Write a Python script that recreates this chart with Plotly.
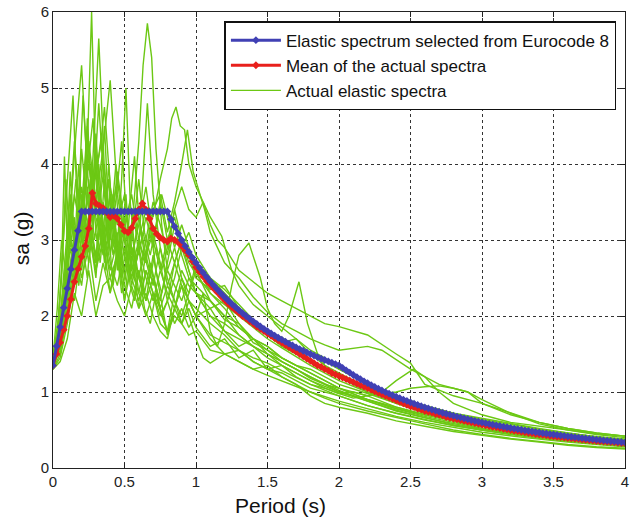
import plotly.graph_objects as go

# ---------------- data ----------------
# Eurocode 8 elastic spectrum (read at 0.025 s steps)
period_grid = [round(i * 0.025, 3) for i in range(161)]

ec8_sa = [
    1.35, 1.603, 1.856, 2.109, 2.363, 2.616, 2.869, 3.122, 3.375,
    3.375, 3.375, 3.375, 3.375, 3.375, 3.375, 3.375, 3.375, 3.375, 3.375, 3.375, 3.375,
    3.375, 3.375, 3.375, 3.375, 3.375, 3.375, 3.375, 3.375, 3.375, 3.375, 3.375, 3.375,
    3.273, 3.176, 3.086, 3.000, 2.919, 2.842, 2.769, 2.700, 2.634, 2.571, 2.512, 2.455,
    2.400, 2.348, 2.298, 2.250, 2.204, 2.160, 2.118, 2.077, 2.038, 2.000, 1.964, 1.929,
    1.895, 1.862, 1.831, 1.800, 1.770, 1.742, 1.714, 1.688, 1.662, 1.636, 1.612, 1.588,
    1.565, 1.543, 1.521, 1.500, 1.479, 1.459, 1.440, 1.421, 1.403, 1.385, 1.367, 1.350,
    1.317, 1.285, 1.254, 1.224, 1.196, 1.168, 1.141, 1.116, 1.091, 1.067, 1.043, 1.021,
    0.999, 0.978, 0.957, 0.938, 0.918, 0.900, 0.882, 0.864, 0.847, 0.830, 0.814, 0.799,
    0.784, 0.769, 0.755, 0.741, 0.727, 0.714, 0.701, 0.689, 0.677, 0.665, 0.653, 0.642,
    0.631, 0.621, 0.610, 0.600, 0.590, 0.580, 0.571, 0.562, 0.553, 0.544, 0.536, 0.527,
    0.519, 0.511, 0.503, 0.496, 0.488, 0.481, 0.474, 0.467, 0.460, 0.454, 0.447, 0.441,
    0.435, 0.428, 0.423, 0.417, 0.411, 0.405, 0.400, 0.394, 0.389, 0.384, 0.379, 0.374,
    0.369, 0.364, 0.360, 0.355, 0.351, 0.346, 0.342, 0.338,
]

mean_sa = [
    1.35, 1.5, 1.65, 1.82, 2.0, 2.22, 2.45, 2.62, 2.78, 2.92, 3.15, 3.62, 3.48, 3.45,
    3.42, 3.36, 3.3, 3.32, 3.28, 3.2, 3.12, 3.1, 3.16, 3.28, 3.4, 3.48, 3.4, 3.28, 3.15,
    3.08, 3.03, 3.0, 2.98, 3.02, 3.0, 2.97, 2.92, 2.86, 2.8, 2.72, 2.64, 2.58, 2.52,
    2.46, 2.41, 2.36, 2.31, 2.26, 2.21, 2.16, 2.12, 2.08, 2.04, 2.0, 1.97, 1.93, 1.9,
    1.86, 1.83, 1.8, 1.77, 1.74, 1.71, 1.68, 1.65, 1.62, 1.59, 1.56, 1.53, 1.5, 1.47,
    1.44, 1.41, 1.38, 1.35, 1.33, 1.3, 1.28, 1.25, 1.23, 1.21, 1.19, 1.17, 1.15, 1.13,
    1.11, 1.09, 1.07, 1.05, 1.03, 1.01, 0.99, 0.97, 0.95, 0.93, 0.91, 0.89, 0.87, 0.85,
    0.83, 0.81, 0.8, 0.78, 0.77, 0.75, 0.74, 0.73, 0.71, 0.7, 0.69, 0.67, 0.66, 0.65,
    0.64, 0.63, 0.62, 0.61, 0.6, 0.59, 0.58, 0.57, 0.56, 0.55, 0.54, 0.535, 0.525, 0.515,
    0.51, 0.5, 0.49, 0.485, 0.475, 0.47, 0.46, 0.455, 0.445, 0.44, 0.435, 0.43, 0.42,
    0.415, 0.41, 0.405, 0.4, 0.395, 0.39, 0.385, 0.38, 0.375, 0.37, 0.365, 0.36, 0.355,
    0.35, 0.348, 0.344, 0.34, 0.336, 0.332, 0.328, 0.325,
]

# Actual elastic spectra (breakpoints)
g1_t = [0, 0.05, 0.1, 0.13, 0.17, 0.2, 0.23, 0.27, 0.3, 0.34, 0.38, 0.42, 0.46, 0.5, 0.55, 0.6, 0.65, 0.7, 0.75, 0.8, 0.85, 0.9, 0.95, 1.0, 1.1, 1.2, 1.3, 1.4, 1.5, 1.6, 1.7, 1.8, 1.9, 2.0, 2.2, 2.4, 2.6, 2.8, 3.0, 3.2, 3.4, 3.6, 3.8, 4.0]
g1_sa = [1.4, 1.9, 2.6, 3.4, 2.9, 4.2, 3.6, 6.0, 3.8, 4.4, 3.0, 3.6, 2.6, 3.1, 2.4, 2.9, 2.5, 2.2, 2.6, 2.3, 2.1, 2.4, 2.2, 2.0, 2.1, 1.8, 1.6, 1.7, 1.5, 1.4, 1.3, 1.2, 1.1, 1.05, 0.9, 0.78, 0.68, 0.6, 0.52, 0.47, 0.42, 0.38, 0.34, 0.31]

g2_t = [0, 0.05, 0.1, 0.15, 0.2, 0.25, 0.3, 0.35, 0.4, 0.45, 0.5, 0.55, 0.6, 0.63, 0.66, 0.69, 0.72, 0.76, 0.8, 0.85, 0.9, 0.95, 1.0, 1.05, 1.1, 1.2, 1.3, 1.4, 1.5, 1.6, 1.7, 1.8, 1.9, 2.0, 2.2, 2.4, 2.6, 2.8, 3.0, 3.2, 3.4, 3.6, 3.8, 4.0]
g2_sa = [1.35, 1.6, 2.2, 2.8, 2.4, 3.2, 2.6, 3.0, 2.3, 2.8, 2.2, 3.1, 4.3, 5.3, 5.85, 5.4, 4.2, 3.2, 2.6, 2.9, 2.5, 2.3, 2.6, 2.4, 2.2, 2.0, 1.9, 1.7, 1.6, 1.45, 1.35, 1.25, 1.15, 1.05, 0.95, 0.8, 0.7, 0.62, 0.55, 0.5, 0.45, 0.4, 0.36, 0.33]

g3_t = [0, 0.04, 0.08, 0.12, 0.16, 0.2, 0.24, 0.28, 0.32, 0.36, 0.4, 0.44, 0.48, 0.52, 0.56, 0.6, 0.65, 0.7, 0.75, 0.8, 0.85, 0.9, 0.95, 1.0, 1.1, 1.2, 1.3, 1.4, 1.5, 1.6, 1.7, 1.8, 2.0, 2.2, 2.4, 2.6, 2.8, 3.0, 3.2, 3.4, 3.6, 3.8, 4.0]
g3_sa = [1.3, 1.55, 2.1, 2.9, 2.5, 3.6, 3.1, 4.1, 5.65, 3.9, 3.2, 3.7, 2.7, 2.4, 2.9, 2.3, 2.0, 2.3, 2.1, 1.8, 2.0, 1.9, 2.2, 2.0, 1.7, 1.5, 1.55, 1.4, 1.3, 1.25, 1.15, 1.05, 0.95, 0.82, 0.72, 0.63, 0.56, 0.5, 0.45, 0.4, 0.36, 0.33, 0.3]

g4_t = [0, 0.04, 0.08, 0.12, 0.16, 0.2, 0.24, 0.28, 0.32, 0.36, 0.4, 0.45, 0.5, 0.55, 0.6, 0.65, 0.7, 0.75, 0.8, 0.85, 0.9, 0.95, 1.0, 1.1, 1.2, 1.3, 1.4, 1.5, 1.6, 1.7, 1.8, 1.9, 2.0, 2.2, 2.4, 2.6, 2.8, 3.0, 3.2, 3.4, 3.6, 3.8, 4.0]
g4_sa = [1.4, 1.8, 2.5, 3.3, 4.4, 5.3, 3.9, 4.6, 3.4, 4.0, 2.8, 3.4, 2.5, 2.9, 2.1, 2.6, 2.3, 1.9, 1.8, 2.3, 2.6, 2.4, 2.3, 2.2, 1.95, 1.85, 1.7, 1.55, 1.45, 1.35, 1.3, 1.2, 1.1, 0.98, 0.85, 0.74, 0.65, 0.58, 0.52, 0.46, 0.42, 0.38, 0.35]

g5_t = [0, 0.05, 0.1, 0.15, 0.2, 0.25, 0.3, 0.35, 0.4, 0.45, 0.5, 0.55, 0.6, 0.65, 0.7, 0.75, 0.8, 0.83, 0.86, 0.89, 0.92, 0.95, 1.0, 1.05, 1.1, 1.15, 1.2, 1.3, 1.4, 1.5, 1.6, 1.7, 1.8, 1.9, 2.0, 2.2, 2.4, 2.5, 2.6, 2.8, 3.0, 3.2, 3.4, 3.6, 3.8, 4.0]
g5_sa = [1.35, 1.7, 2.3, 3.0, 2.6, 3.3, 2.8, 3.5, 3.0, 3.9, 3.2, 3.6, 3.0, 3.4, 3.3, 3.8, 4.2, 4.6, 4.75, 4.5, 4.45, 4.0, 3.7, 3.5, 3.2, 3.0, 2.9, 2.6, 2.45, 2.3, 2.2, 2.1, 2.0, 1.9, 1.86, 1.75, 1.5, 1.38, 1.1, 0.95, 0.85, 0.72, 0.6, 0.52, 0.46, 0.42]

g6_t = [0, 0.05, 0.1, 0.15, 0.2, 0.25, 0.3, 0.35, 0.4, 0.45, 0.5, 0.55, 0.6, 0.66, 0.7, 0.75, 0.8, 0.85, 0.9, 0.95, 1.0, 1.1, 1.2, 1.3, 1.4, 1.5, 1.6, 1.7, 1.8, 1.9, 2.0, 2.2, 2.4, 2.6, 2.8, 3.0, 3.2, 3.4, 3.6, 3.8, 4.0]
g6_sa = [1.3, 1.5, 2.0, 2.6, 3.3, 2.7, 3.5, 4.2, 5.1, 3.6, 3.0, 2.5, 2.9, 4.8, 3.6, 2.9, 2.4, 2.7, 3.0, 2.6, 2.3, 2.1, 2.2, 1.9, 1.65, 1.55, 1.4, 1.3, 1.18, 1.1, 1.0, 0.88, 0.75, 0.66, 0.58, 0.51, 0.46, 0.41, 0.37, 0.34, 0.3]

g7_t = [0, 0.04, 0.08, 0.11, 0.14, 0.17, 0.21, 0.25, 0.29, 0.33, 0.37, 0.41, 0.45, 0.48, 0.51, 0.54, 0.58, 0.63, 0.7, 0.75, 0.8, 0.85, 0.9, 0.95, 1.0, 1.1, 1.2, 1.3, 1.4, 1.5, 1.6, 1.7, 1.8, 2.0, 2.2, 2.4, 2.6, 2.8, 3.0, 3.2, 3.4, 3.6, 3.8, 4.0]
g7_sa = [1.45, 2.0, 3.2, 4.1, 4.9, 3.4, 2.9, 3.8, 3.0, 3.5, 2.6, 3.3, 2.9, 3.8, 5.0, 3.5, 2.7, 3.1, 2.5, 2.2, 2.7, 3.2, 2.8, 2.5, 2.4, 2.2, 2.0, 1.75, 1.6, 1.5, 1.4, 1.3, 1.2, 1.02, 0.88, 0.76, 0.66, 0.57, 0.5, 0.44, 0.39, 0.35, 0.32, 0.29]

g8_t = [0, 0.03, 0.06, 0.08, 0.1, 0.13, 0.16, 0.2, 0.24, 0.28, 0.32, 0.36, 0.4, 0.45, 0.5, 0.55, 0.6, 0.65, 0.7, 0.75, 0.8, 0.85, 0.9, 0.94, 0.98, 1.02, 1.06, 1.1, 1.2, 1.3, 1.4, 1.5, 1.6, 1.7, 1.8, 1.9, 2.0, 2.2, 2.3, 2.5, 2.7, 2.9, 3.0, 3.2, 3.4, 3.6, 3.8, 4.0]
g8_sa = [1.35, 1.7, 2.6, 4.1, 2.9, 3.5, 2.7, 3.4, 4.5, 3.2, 4.0, 2.9, 3.6, 2.8, 3.3, 2.6, 3.0, 2.7, 3.4, 3.6, 3.1, 3.5, 4.0, 4.45, 3.9, 3.65, 3.4, 3.1, 2.7, 2.5, 2.25, 2.05, 1.9, 1.8, 1.7, 1.62, 1.55, 1.6, 1.55, 1.3, 1.1, 1.0, 0.85, 0.7, 0.6, 0.52, 0.46, 0.42]

g9_t = [0, 0.05, 0.1, 0.15, 0.2, 0.25, 0.3, 0.35, 0.4, 0.45, 0.5, 0.55, 0.6, 0.65, 0.7, 0.75, 0.8, 0.85, 0.9, 0.95, 1.0, 1.05, 1.1, 1.15, 1.2, 1.25, 1.3, 1.37, 1.45, 1.5, 1.55, 1.6, 1.65, 1.72, 1.78, 1.85, 1.9, 2.0, 2.2, 2.4, 2.6, 2.8, 3.0, 3.2, 3.4, 3.6, 3.8, 4.0]
g9_sa = [1.4, 1.8, 2.4, 3.1, 2.5, 2.9, 2.2, 2.7, 2.3, 2.9, 2.4, 2.1, 2.6, 2.2, 2.8, 2.3, 1.75, 2.1, 2.5, 2.2, 2.0, 2.3, 1.8, 1.6, 1.9, 2.4, 2.8, 2.96, 2.5, 2.1, 1.9, 1.8, 2.0, 2.45, 1.9, 1.5, 1.35, 1.2, 1.0, 0.85, 0.72, 0.62, 0.52, 0.46, 0.41, 0.36, 0.33, 0.3]

g10_t = [0, 0.05, 0.1, 0.15, 0.2, 0.25, 0.3, 0.35, 0.4, 0.45, 0.5, 0.55, 0.6, 0.65, 0.7, 0.75, 0.8, 0.85, 0.9, 0.95, 1.0, 1.05, 1.1, 1.2, 1.3, 1.4, 1.5, 1.6, 1.7, 1.8, 1.9, 2.0, 2.2, 2.4, 2.6, 2.8, 3.0, 3.2, 3.4, 3.6, 3.8, 4.0]
g10_sa = [1.3, 1.4, 1.7, 2.3, 2.0, 2.6, 2.0, 2.4, 2.5, 2.2, 2.0, 2.4, 2.1, 2.3, 2.0, 1.8, 1.7, 2.1, 2.4, 2.0, 1.7, 1.45, 1.38, 1.5, 1.4, 1.3, 1.35, 1.2, 1.1, 0.95, 0.85, 0.8, 0.72, 0.62, 0.55, 0.48, 0.43, 0.38, 0.34, 0.3, 0.27, 0.25]

g11_t = [0, 0.05, 0.1, 0.15, 0.2, 0.25, 0.3, 0.35, 0.4, 0.45, 0.5, 0.55, 0.6, 0.65, 0.7, 0.75, 0.8, 0.85, 0.9, 0.95, 1.0, 1.1, 1.2, 1.3, 1.4, 1.5, 1.6, 1.7, 1.8, 1.9, 2.0, 2.2, 2.4, 2.6, 2.8, 3.0, 3.2, 3.4, 3.6, 3.8, 4.0]
g11_sa = [1.35, 1.6, 2.1, 2.7, 3.5, 2.9, 3.9, 3.1, 2.6, 3.0, 2.2, 2.7, 3.3, 2.8, 2.4, 2.9, 2.5, 2.2, 2.0, 2.3, 2.7, 2.3, 2.1, 1.85, 1.7, 1.6, 1.45, 1.35, 1.25, 1.15, 1.05, 0.9, 0.78, 0.7, 0.64, 0.58, 0.52, 0.47, 0.42, 0.38, 0.35]

g12_t = [0, 0.05, 0.1, 0.15, 0.2, 0.25, 0.3, 0.35, 0.4, 0.45, 0.5, 0.55, 0.6, 0.65, 0.7, 0.75, 0.8, 0.85, 0.9, 0.95, 1.0, 1.1, 1.2, 1.3, 1.4, 1.5, 1.6, 1.7, 1.8, 1.9, 2.0, 2.1, 2.2, 2.3, 2.4, 2.5, 2.6, 2.7, 2.8, 2.9, 3.0, 3.2, 3.4, 3.6, 3.8, 4.0]
g12_sa = [1.4, 1.9, 2.7, 3.6, 3.0, 4.3, 3.5, 2.8, 3.4, 2.7, 3.2, 2.6, 2.3, 2.8, 3.1, 2.7, 2.2, 2.5, 2.9, 2.6, 2.3, 2.0, 1.9, 1.75, 1.6, 1.5, 1.35, 1.25, 1.15, 1.05, 0.98, 1.0, 0.95, 0.98, 1.0, 1.05, 1.07, 1.08, 1.05, 1.0, 0.9, 0.72, 0.58, 0.5, 0.44, 0.4]

g13_t = [0, 0.05, 0.1, 0.15, 0.2, 0.25, 0.3, 0.35, 0.4, 0.45, 0.5, 0.55, 0.6, 0.65, 0.7, 0.75, 0.8, 0.85, 0.9, 0.95, 1.0, 1.1, 1.2, 1.3, 1.4, 1.5, 1.6, 1.7, 1.8, 1.9, 2.0, 2.1, 2.2, 2.3, 2.4, 2.52, 2.6, 2.7, 2.8, 3.0, 3.2, 3.4, 3.6, 3.8, 4.0]
g13_sa = [1.35, 1.7, 2.2, 2.9, 3.7, 3.1, 2.6, 3.2, 2.7, 2.4, 2.9, 2.5, 2.2, 2.6, 2.3, 2.0, 2.2, 2.7, 2.4, 2.2, 2.1, 1.9, 1.75, 1.55, 1.4, 1.3, 1.35, 1.2, 1.1, 1.05, 0.98, 0.92, 0.95, 1.0, 1.15, 1.3, 1.2, 1.0, 0.85, 0.7, 0.6, 0.55, 0.5, 0.45, 0.42]

g14_t = [0, 0.05, 0.1, 0.15, 0.2, 0.25, 0.3, 0.35, 0.4, 0.45, 0.5, 0.55, 0.6, 0.65, 0.7, 0.75, 0.8, 0.85, 0.9, 0.95, 1.0, 1.1, 1.2, 1.3, 1.4, 1.5, 1.6, 1.7, 1.8, 1.9, 2.0, 2.2, 2.4, 2.6, 2.8, 3.0, 3.2, 3.4, 3.6, 3.8, 4.0]
g14_sa = [1.3, 1.45, 1.9, 2.5, 3.2, 4.0, 3.3, 2.9, 3.6, 3.0, 2.6, 3.1, 2.5, 2.2, 2.5, 2.1, 2.4, 2.2, 1.9, 2.1, 1.85, 1.6, 1.7, 1.45, 1.55, 1.3, 1.2, 1.1, 1.0, 0.92, 0.85, 0.75, 0.66, 0.58, 0.5, 0.44, 0.39, 0.35, 0.31, 0.28, 0.26]

g15_t = [0, 0.04, 0.08, 0.12, 0.16, 0.2, 0.24, 0.28, 0.32, 0.36, 0.4, 0.44, 0.48, 0.52, 0.56, 0.6, 0.65, 0.7, 0.75, 0.8, 0.85, 0.9, 0.95, 1.0, 1.1, 1.2, 1.3, 1.4, 1.5, 1.6, 1.7, 1.8, 1.9, 2.0, 2.2, 2.4, 2.6, 2.8, 3.0, 3.2, 3.4, 3.6, 3.8, 4.0]
g15_sa = [1.4, 1.7, 2.4, 3.0, 3.8, 3.2, 4.4, 3.5, 4.8, 3.6, 3.1, 4.0, 3.3, 2.7, 3.4, 2.8, 3.3, 2.9, 3.5, 3.0, 2.7, 3.0, 2.8, 2.5, 2.35, 2.4, 2.1, 1.95, 1.8, 1.65, 1.7, 1.5, 1.35, 1.25, 1.05, 0.88, 0.75, 0.7, 0.62, 0.55, 0.48, 0.43, 0.39, 0.36]

g16_t = [0, 0.05, 0.1, 0.15, 0.2, 0.25, 0.3, 0.33, 0.36, 0.4, 0.45, 0.5, 0.55, 0.6, 0.65, 0.7, 0.75, 0.8, 0.85, 0.9, 0.95, 1.0, 1.1, 1.2, 1.3, 1.4, 1.5, 1.6, 1.7, 1.8, 1.9, 2.0, 2.2, 2.4, 2.6, 2.8, 3.0, 3.2, 3.4, 3.6, 3.8, 4.0]
g16_sa = [1.35, 1.55, 2.0, 2.6, 3.0, 3.6, 3.9, 4.2, 4.75, 3.7, 3.2, 3.6, 2.8, 3.2, 3.7, 3.0, 2.6, 3.0, 3.3, 2.9, 3.1, 2.8, 2.5, 2.35, 2.15, 1.95, 1.8, 1.72, 1.6, 1.5, 1.4, 1.3, 1.1, 0.95, 0.82, 0.72, 0.65, 0.58, 0.52, 0.46, 0.41, 0.37]

g17_t = [0, 0.05, 0.1, 0.15, 0.2, 0.25, 0.3, 0.35, 0.4, 0.45, 0.5, 0.55, 0.6, 0.65, 0.7, 0.75, 0.8, 0.85, 0.9, 0.95, 1.0, 1.05, 1.1, 1.18, 1.25, 1.3, 1.4, 1.5, 1.6, 1.7, 1.8, 1.9, 2.0, 2.2, 2.4, 2.6, 2.8, 3.0, 3.2, 3.4, 3.6, 3.8, 4.0]
g17_sa = [1.4, 1.8, 2.5, 2.2, 2.9, 3.3, 2.7, 3.1, 2.5, 2.8, 3.4, 2.9, 2.5, 3.0, 3.5, 3.2, 2.8, 3.4, 3.7, 3.4, 3.3, 3.5, 3.3, 3.05, 2.6, 2.4, 2.15, 2.0, 1.85, 1.7, 1.55, 1.45, 1.3, 1.12, 0.95, 0.82, 0.72, 0.64, 0.57, 0.51, 0.46, 0.41, 0.38]

# finer period sampling shared by the last five records
gd_t = [0, 0.03, 0.06, 0.09, 0.12, 0.15, 0.18, 0.21, 0.24, 0.27, 0.3, 0.33, 0.36, 0.39, 0.42, 0.45, 0.48, 0.51, 0.54, 0.57, 0.6, 0.64, 0.68, 0.72, 0.76, 0.8, 0.85, 0.9, 0.95, 1.0, 1.1, 1.2, 1.3, 1.4, 1.5, 1.6, 1.8, 2.0, 2.2, 2.4, 2.6, 2.8, 3.0, 3.3, 3.6, 4.0]
g18_sa = [1.35, 1.6, 2.2, 2.9, 3.6, 2.8, 4.0, 3.2, 4.6, 3.6, 4.2, 3.0, 3.8, 2.9, 3.4, 2.6, 3.1, 3.6, 2.8, 2.5, 3.0, 2.7, 3.2, 2.6, 2.3, 2.6, 2.4, 2.2, 2.5, 2.3, 2.0, 1.8, 1.7, 1.6, 1.45, 1.35, 1.15, 1.0, 0.9, 0.8, 0.7, 0.62, 0.55, 0.47, 0.4, 0.33]
g19_sa = [1.4, 1.8, 2.5, 3.8, 2.9, 3.3, 2.4, 2.9, 3.7, 2.9, 2.5, 3.3, 2.7, 3.1, 2.4, 2.8, 2.3, 2.6, 3.0, 2.6, 2.9, 2.3, 2.7, 2.4, 2.0, 2.2, 1.9, 2.1, 1.85, 2.0, 1.75, 1.65, 1.55, 1.45, 1.38, 1.28, 1.1, 0.95, 0.82, 0.72, 0.64, 0.56, 0.5, 0.43, 0.37, 0.31]
g20_sa = [1.3, 1.5, 2.0, 2.7, 3.4, 4.3, 3.5, 4.9, 3.9, 3.4, 4.4, 3.5, 3.1, 4.0, 3.2, 3.7, 4.3, 3.4, 2.9, 3.3, 3.8, 3.1, 2.8, 3.2, 3.6, 3.3, 2.9, 3.2, 2.9, 2.7, 2.5, 2.3, 2.1, 1.9, 1.75, 1.6, 1.4, 1.2, 1.05, 0.9, 0.78, 0.68, 0.6, 0.5, 0.42, 0.35]
g21_sa = [1.35, 1.55, 1.9, 2.4, 3.1, 2.6, 3.5, 2.9, 2.5, 3.2, 2.7, 3.6, 4.5, 3.3, 2.8, 3.1, 2.5, 2.9, 2.4, 2.2, 2.6, 2.1, 1.9, 2.3, 2.0, 1.8, 2.1, 1.9, 1.75, 1.8, 1.55, 1.5, 1.4, 1.3, 1.22, 1.15, 1.0, 0.88, 0.78, 0.68, 0.6, 0.53, 0.47, 0.4, 0.34, 0.28]
g22_sa = [1.45, 2.1, 3.0, 2.5, 3.9, 3.0, 2.6, 3.4, 2.8, 4.0, 3.1, 2.7, 3.3, 3.8, 2.9, 3.4, 3.0, 2.7, 3.5, 4.1, 3.3, 2.8, 2.5, 2.9, 2.6, 2.9, 3.4, 3.0, 2.7, 2.55, 2.3, 2.15, 2.0, 1.85, 1.7, 1.58, 1.35, 1.15, 1.0, 0.88, 0.8, 0.7, 0.62, 0.52, 0.45, 0.38]

green_periods = [g1_t, g2_t, g3_t, g4_t, g5_t, g6_t, g7_t, g8_t, g9_t, g10_t,
                 g11_t, g12_t, g13_t, g14_t, g15_t, g16_t, g17_t,
                 gd_t, gd_t, gd_t, gd_t, gd_t]
green_values = [g1_sa, g2_sa, g3_sa, g4_sa, g5_sa, g6_sa, g7_sa, g8_sa, g9_sa, g10_sa,
                g11_sa, g12_sa, g13_sa, g14_sa, g15_sa, g16_sa, g17_sa,
                g18_sa, g19_sa, g20_sa, g21_sa, g22_sa]

legend_labels = ["Elastic spectrum selected from Eurocode 8",
                 "Mean of the actual spectra",
                 "Actual elastic spectra"]
x_ticks = [0, 0.5, 1, 1.5, 2, 2.5, 3, 3.5, 4]
y_ticks = [0, 1, 2, 3, 4, 5, 6]

# ---------------- figure ----------------
for i, (t, s) in enumerate(zip(green_periods, green_values)):
    if len(t) != len(s):
        raise ValueError(f"green curve {i+1}: {len(t)} periods vs {len(s)} values")
assert len(ec8_sa) == len(period_grid), len(ec8_sa)
assert len(mean_sa) == len(period_grid), len(mean_sa)

GREEN = "#6cc814"
RED = "#e8201c"
BLUE = "#4040b4"
FONT = "Arial, Liberation Sans, sans-serif"

fig = go.Figure()
for i, (t, s) in enumerate(zip(green_periods, green_values)):
    fig.add_trace(go.Scatter(
        x=t, y=s, mode="lines", line=dict(color=GREEN, width=1.4),
        name=legend_labels[2], showlegend=(i == 0), legendrank=3,
        legendgroup="g"))

fig.add_trace(go.Scatter(
    x=period_grid, y=mean_sa, mode="lines+markers",
    line=dict(color=RED, width=3),
    marker=dict(symbol="diamond", size=6, color=RED),
    name=legend_labels[1], legendrank=2))

fig.add_trace(go.Scatter(
    x=period_grid, y=ec8_sa, mode="lines+markers",
    line=dict(color=BLUE, width=3),
    marker=dict(symbol="diamond", size=6, color=BLUE),
    name=legend_labels[0], legendrank=1))

axis_common = dict(
    showline=True, linecolor="#222", linewidth=1, mirror="ticks",
    ticks="inside", ticklen=5, tickcolor="#222",
    showgrid=True, gridcolor="#333", griddash="dot", gridwidth=1,
    zeroline=False, tickfont=dict(family=FONT, size=15, color="#222"),
    ticklabeloverflow="allow",
)

fig.update_xaxes(range=[0, 4], tickvals=x_ticks,
                 ticktext=[f"{v:g}" for v in x_ticks], **axis_common)
fig.update_yaxes(range=[0, 6], tickvals=y_ticks,
                 ticktext=[f"{v:g}" for v in y_ticks], **axis_common)

fig.update_layout(
    width=631, height=527,
    margin=dict(l=53, r=2, t=12, b=59),
    paper_bgcolor="white", plot_bgcolor="white",
    font=dict(family=FONT, color="#111"),
    showlegend=True,
    legend=dict(
        x=0.985, y=0.98, xanchor="right", yanchor="top",
        bgcolor="white", bordercolor="#111", borderwidth=1.5,
        font=dict(family=FONT, size=17, color="#111"),
        tracegroupgap=0, itemwidth=50,
    ),
    annotations=[
        dict(text="Period (s)", xref="paper", yref="paper",
             x=(282 - 53) / 576, y=(468 - 505) / 456, xanchor="center", yanchor="middle",
             showarrow=False, font=dict(family=FONT, size=21, color="#111")),
        dict(text="sa (g)", xref="paper", yref="paper",
             x=(21 - 53) / 576, y=(468 - 238) / 456, xanchor="center", yanchor="middle",
             textangle=-90, showarrow=False,
             font=dict(family=FONT, size=21, color="#111")),
    ],
)

fig.write_html("out.html")
